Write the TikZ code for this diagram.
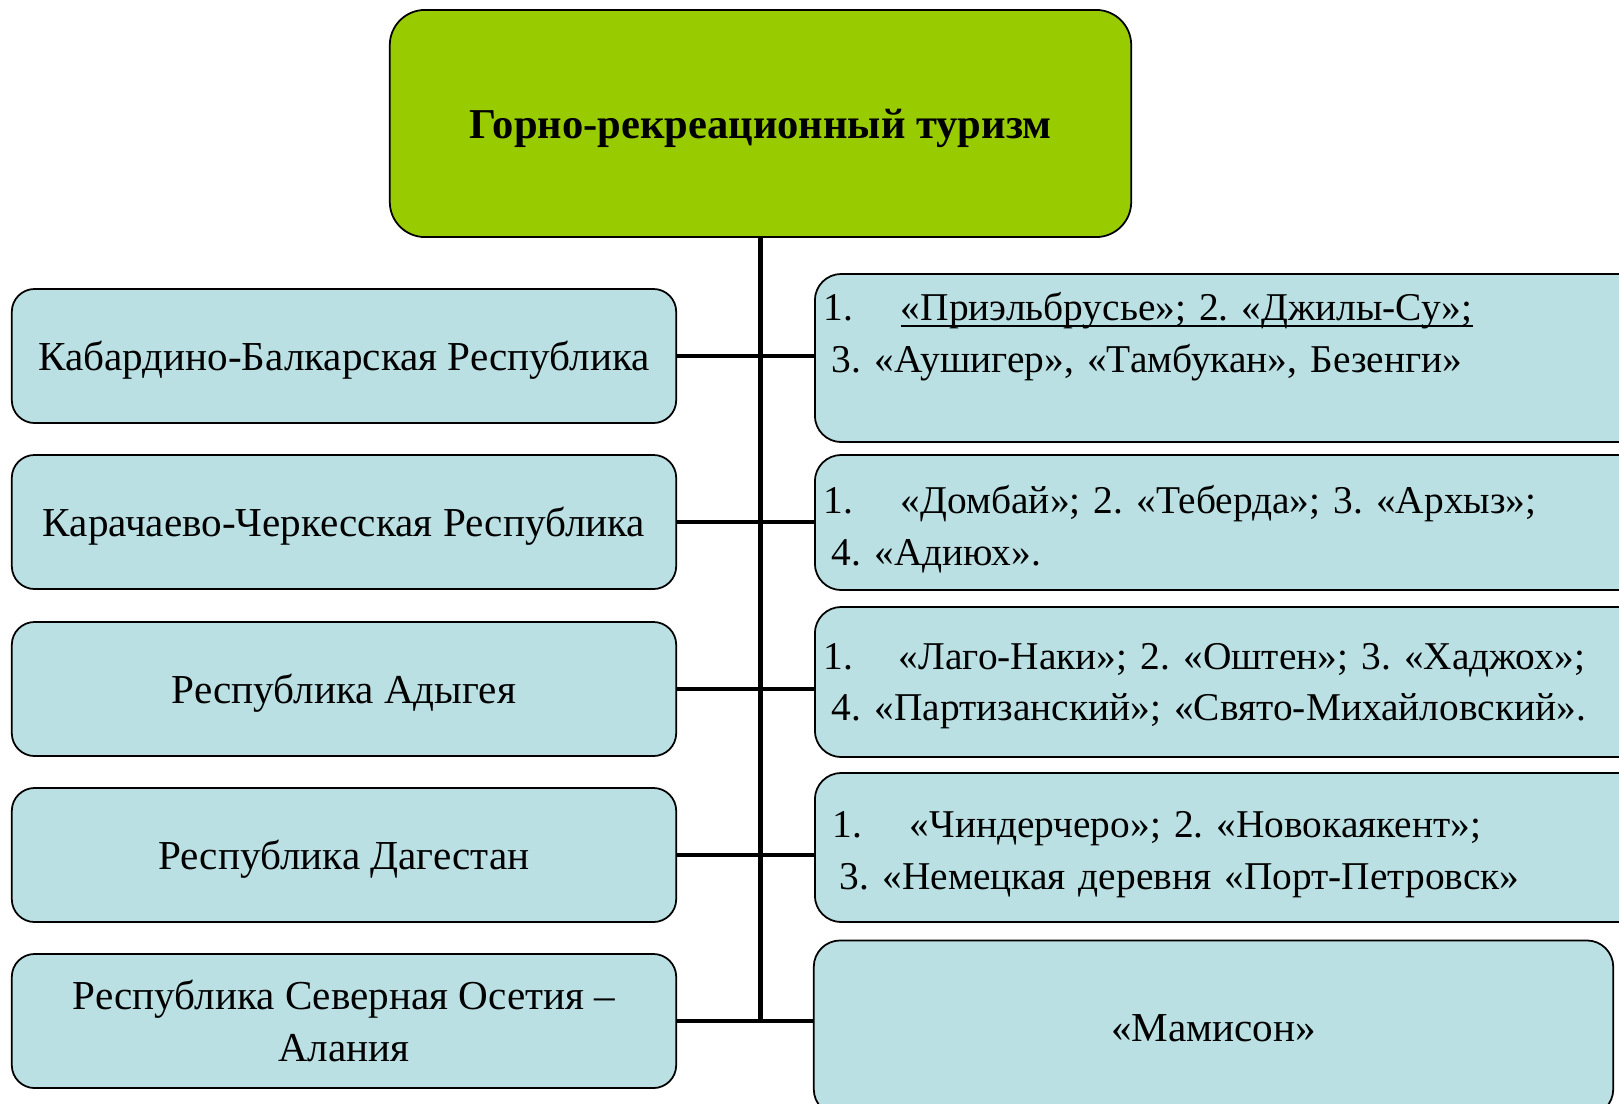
\documentclass[tikz,border=0pt]{standalone}
\usepackage{fontspec}
\setmainfont{Liberation Serif}
\usetikzlibrary{positioning}
\definecolor{topgreen}{RGB}{153,204,0}
\definecolor{regionblue}{RGB}{187,224,227}
\frenchspacing
\newsavebox{\lowlinebox}
\newcommand{\lowline}[1]{\sbox{\lowlinebox}{#1}\rlap{\rule[-1.8pt]{\wd\lowlinebox}{0.6pt}}\usebox{\lowlinebox}}

\begin{document}
\begin{tikzpicture}[x=0.01cm,y=-0.01cm,
  box/.style={draw=black,line width=0.5pt,fill=regionblue,rounded corners=6.5pt,
    font=\fontsize{11.7}{14.6}\selectfont},
  region/.style={box,minimum width=6.64cm,minimum height=1.34cm,align=center},
  resort/.style={box,anchor=west,text width=9cm,inner xsep=0.09cm,align=left,rounded corners=7.5pt,
    font=\fontsize{11.2}{14.6}\selectfont},
  link/.style={line width=1.4pt}]
\clip (0,0) rectangle (1619,1103);
\fill[white] (0,0) rectangle (1619,1103);
% top box
\node[draw,line width=0.5pt,fill=topgreen,rounded corners=10pt,minimum width=7.41cm,minimum height=2.27cm,
  text depth=0pt,font=\bfseries\fontsize{12.1}{14.6}\selectfont] (top) at (760.5,123.5) {Горно-рекреационный туризм};
% regions
\node[region,text depth=0pt] (kbr) at (344,356) {Кабардино-Балкарская Республика};
\node[region,text depth=0pt] (kchr) at (344,522) {Карачаево-Черкесская Республика};
\node[region,text depth=0pt] (ady) at (344,689) {Республика Адыгея};
\node[region,text depth=0pt] (dag) at (344,855) {Республика Дагестан};
\node[region] (oset) at (344,1021) {Республика Северная Осетия –\\Алания};
% resorts
\node[resort,minimum height=1.68cm] (kbr-r) at (814,358)
  {\makebox[0.77cm][l]{1.}\lowline{«Приэльбрусье»; 2. «Джилы-Су»;}\\
   \hspace{0.08cm}3. «Аушигер», «Тамбукан», Безенги»\\\mbox{}};
\node[resort,minimum height=1.35cm,text depth=13pt] (kchr-r) at (814,522.5)
  {\makebox[0.77cm][l]{1.}«Домбай»; 2. «Теберда»; 3. «Архыз»;\\
   \hspace{0.08cm}4. «Адиюх».};
\node[resort,minimum height=1.50cm,text depth=14.6pt] (ady-r) at (814,682)
  {\makebox[0.75cm][l]{1.}«Лаго-Наки»; 2. «Оштен»; 3. «Хаджох»;\\
   \hspace{0.08cm}4. «Партизанский»; «Свято-Михайловский».};
\node[resort,minimum height=1.49cm,text depth=13pt] (dag-r) at (814,847.5)
  {\hspace{0.09cm}\makebox[0.77cm][l]{1.}«Чиндерчеро»; 2. «Новокаякент»;\\
   \hspace{0.16cm}3. «Немецкая деревня «Порт-Петровск»};
\node[box,minimum width=7.99cm,minimum height=1.75cm,rounded corners=7.5pt] (oset-r) at (1213.5,1028) {«Мамисон»};
% connectors
\draw[link] (top.south) -- (top.south |- oset.east);
\foreach \r in {kbr,kchr,ady,dag,oset}
  \draw[link] (\r.east) -- (\r.east -| \r-r.west);
\end{tikzpicture}
\end{document}
